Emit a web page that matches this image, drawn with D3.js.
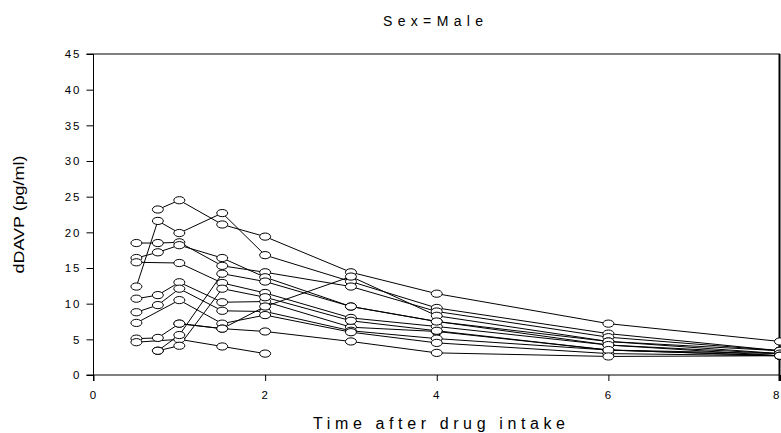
<!DOCTYPE html>
<html>
<head>
<meta charset="utf-8">
<script src="https://cdn.jsdelivr.net/npm/d3@7"></script>
<style>
  html, body { margin: 0; padding: 0; background: #fff; }
  text { font-family: "Liberation Sans", Arial, sans-serif; fill: #000; }
</style>
</head>
<body>
<div id="chart"></div>
<script>
// sampling times (h)
const times = [0.5, 0.75, 1, 1.5, 2, 3, 4, 6, 8];

// dDAVP concentration per subject, null = not sampled
const s1  = [null, 23.2, 24.5, 21.1, 19.4, 14.4, 11.4, 7.2, 4.7];
const s2  = [12.4, 21.6, 19.9, 22.7, 16.8, 13.1, 9.4, 5.8, 3.4];
const s3  = [18.5, 18.5, 18.6, 15.3, 14.4, 12.4, 8.9, 5.3, 3.4];
const s4  = [16.4, 17.2, 18.2, 16.4, 13.7, 9.6, 7.5, 4.7, 3.0];
const s5  = [15.8, null, 15.7, 12.9, 11.5, 8.0, 6.8, 4.2, 2.7];
const s6  = [10.7, 11.2, 13.0, 10.2, 10.3, 6.7, 6.1, 3.5, 3.0];
const s7  = [8.8, 9.8, 12.1, 9.0, 8.9, 6.2, 5.1, 3.5, 2.7];
const s8  = [7.3, null, 10.5, 7.2, 8.4, 6.0, 4.5, 3.0, 2.7];
const s9  = [5.1, 5.2, 7.2, 6.5, 9.6, 13.8, 8.3, 4.7, 3.4];
const s10 = [4.6, null, 5.0, 4.0, 3.0, null, null, null, null];
const s11 = [null, 3.4, 5.6, 14.2, 13.1, 9.6, 7.5, 4.2, 3.0];
const s12 = [null, 3.4, 4.1, 12.1, 10.9, 7.6, 6.2, 3.5, 2.7];
const s13 = [null, null, 7.2, 6.5, 6.1, 4.7, 3.1, 2.6, 2.7];
const subjects = [s1, s2, s3, s4, s5, s6, s7, s8, s9, s10, s11, s12, s13];

const xTicks = [0, 2, 4, 6, 8];
const yTicks = [0, 5, 10, 15, 20, 25, 30, 35, 40, 45];

const width = 781, height = 433;
const margin = { top: 54, right: 1, bottom: 58, left: 93.5 };

const svg = d3.select("#chart").append("svg")
  .attr("width", width)
  .attr("height", height);

const x = d3.scaleLinear().domain([0, 8]).range([margin.left, width - margin.right]);
const y = d3.scaleLinear().domain([0, 45]).range([height - margin.bottom, margin.top]);

// axes
const xAxis = svg.append("g")
  .attr("transform", `translate(0,${y(0)})`)
  .call(d3.axisBottom(x).tickValues(xTicks).tickSize(6).tickPadding(10).tickSizeOuter(0));
const yAxis = svg.append("g")
  .attr("transform", `translate(${x(0)},0)`)
  .call(d3.axisLeft(y).tickValues(yTicks).tickSize(7).tickPadding(5).tickSizeOuter(0));

[xAxis, yAxis].forEach(a => {
  a.select(".domain").remove();
  a.selectAll("line").attr("stroke", "#000");
  a.selectAll("text")
    .style("font-size", "11.5px")
    .style("letter-spacing", "2px")
    .style("font-family", "'Liberation Sans', Arial, sans-serif");
});
// last x label sits on the right edge, keep it inside the page
xAxis.selectAll(".tick text").filter(d => d === 8)
  .attr("text-anchor", "end")
  .attr("dx", -1)
  .style("letter-spacing", "0px");

// frame lines (axis lines extended to tick length)
svg.append("line")
  .attr("x1", x(0) - 7).attr("x2", x(8))
  .attr("y1", y(0)).attr("y2", y(0))
  .attr("stroke", "#000");
svg.append("line")
  .attr("x1", x(0)).attr("x2", x(0))
  .attr("y1", y(45)).attr("y2", y(0) + 6)
  .attr("stroke", "#000");
svg.append("line")
  .attr("x1", x(0) - 7).attr("x2", x(8))
  .attr("y1", y(45)).attr("y2", y(45))
  .attr("stroke", "#000");
svg.append("line")
  .attr("x1", x(8) - 0.5).attr("x2", x(8) - 0.5)
  .attr("y1", y(45)).attr("y2", y(0) + 6)
  .attr("stroke", "#000")
  .attr("stroke-width", 2);

// subject profiles
const line = d3.line()
  .x(d => x(d[0]))
  .y(d => y(d[1]));

const pts = subjects.map(s => times.map((t, i) => [t, s[i]]).filter(d => d[1] != null));

svg.append("g").selectAll("path")
  .data(pts)
  .join("path")
  .attr("d", line)
  .attr("fill", "none")
  .attr("stroke", "#000")
  .attr("stroke-width", 1);

svg.append("g").selectAll("g")
  .data(pts)
  .join("g")
  .selectAll("ellipse")
  .data(d => d)
  .join("ellipse")
  .attr("cx", d => x(d[0]))
  .attr("cy", d => y(d[1]))
  .attr("rx", 5.5)
  .attr("ry", 3.6)
  .attr("fill", "#fff")
  .attr("stroke", "#000")
  .attr("stroke-width", 1);

// titles
svg.append("text")
  .attr("x", 433).attr("y", 26)
  .attr("text-anchor", "middle")
  .attr("textLength", 100)
  .attr("lengthAdjust", "spacing")
  .style("font-size", "14px")
  .text("Sex=Male");

svg.append("text")
  .attr("x", 439).attr("y", 429)
  .attr("text-anchor", "middle")
  .attr("textLength", 252)
  .attr("lengthAdjust", "spacing")
  .style("font-size", "16px")
  .text("Time after drug intake");

svg.append("text")
  .attr("transform", `translate(24,${(y(0) + y(45)) / 2}) rotate(-90)`)
  .attr("text-anchor", "middle")
  .attr("textLength", 118)
  .attr("lengthAdjust", "spacingAndGlyphs")
  .style("font-size", "15px")
  .text("dDAVP (pg/ml)");
</script>
</body>
</html>
